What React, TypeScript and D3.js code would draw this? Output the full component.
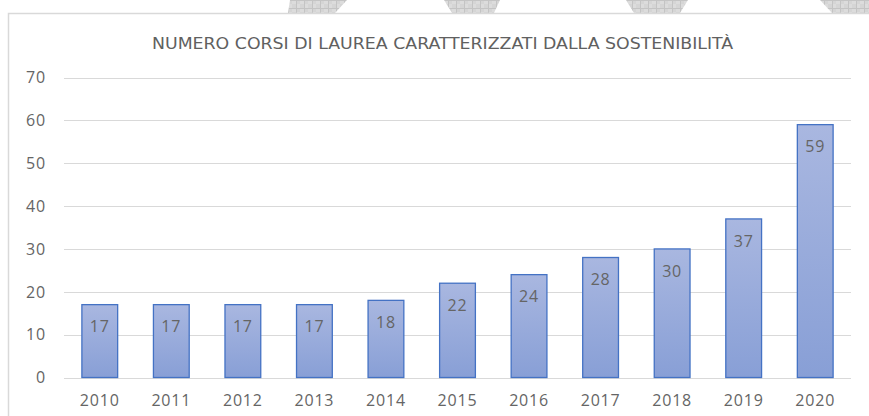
import React from "react";
import * as d3 from "d3";

const years = ["2010", "2011", "2012", "2013", "2014", "2015", "2016", "2017", "2018", "2019", "2020"];
const values = [17, 17, 17, 17, 18, 22, 24, 28, 30, 37, 59];
const yTicks = [0, 10, 20, 30, 40, 50, 60, 70];
const title = "NUMERO CORSI DI LAUREA CARATTERIZZATI DALLA SOSTENIBILITÀ";

const W = 869;
const H = 416;
const plotLeft = 64;
const plotRight = 851;
const plotTop = 77.5;
const plotBottom = 377.5;

const watermark: [number, number][][] = [
  [[290, 0], [347, 0], [335, 13], [288, 13]],
  [[444, 0], [500, 0], [494, 13], [452, 13]],
  [[626, 0], [688, 0], [680, 13], [634, 13]],
  [[820, 0], [869, 0], [869, 13], [832, 13]],
];

export default function App() {
  const x = d3.scaleBand<string>().domain(years).range([plotLeft, plotRight]).paddingInner(0.5).paddingOuter(0.25);
  const y = d3.scaleLinear().domain([0, 70]).range([plotBottom, plotTop]);
  const font = "'Open Sans', 'Noto Sans', sans-serif";
  const gray = "#656565";

  return (
    <svg width={W} height={H} style={{ position: "absolute", left: 0, top: 0 }}>
      <defs>
        <pattern id="chk" width="8" height="8" patternUnits="userSpaceOnUse">
          <rect width="8" height="8" fill="#dcdcdc" />
          <rect width="4" height="4" fill="#d5d5d5" />
          <rect x="4" y="4" width="4" height="4" fill="#d5d5d5" />
          <path d="M0,0.5H8M0.5,0V8" stroke="#c4c4c4" strokeWidth="1" />
        </pattern>
        <linearGradient id="barGrad" x1="0" y1="0" x2="0" y2="1">
          <stop offset="0" stopColor="#a9b7e0" />
          <stop offset="1" stopColor="#889fd6" />
        </linearGradient>
      </defs>
      <rect x={0} y={0} width={W} height={H} fill="#ffffff" />
      {watermark.map((pts, i) => (
        <polygon key={i} points={pts.map((p) => p.join(",")).join(" ")} fill="url(#chk)" />
      ))}
      <rect x={8.5} y={13.5} width={W + 20} height={H + 20} fill="#ffffff" stroke="#d9d9d9" strokeWidth={1.5} />
      <text
        x={442.5}
        y={49}
        textAnchor="middle"
        fontFamily="'Liberation Sans Narrow', 'Arial Narrow', 'DejaVu Sans Condensed', sans-serif"
        fontSize={15}
        fill="#606060"
        textLength={581}
        lengthAdjust="spacingAndGlyphs"
      >
        {title}
      </text>
      {yTicks.map((t) => (
        <g key={t}>
          <line x1={plotLeft} x2={plotRight} y1={Math.round(y(t)) + 0.5} y2={Math.round(y(t)) + 0.5} stroke="#d9d9d9" strokeWidth={1} />
          <text x={46} y={y(t)} dy="0.36em" textAnchor="end" fontFamily={font} fontSize={16} letterSpacing={0.8} fill={gray}>
            {t}
          </text>
        </g>
      ))}
      {years.map((yr, i) => {
        const bx = x(yr) as number;
        const bw = x.bandwidth();
        const top = y(values[i]);
        return (
          <g key={yr}>
            <rect x={bx} y={top} width={bw} height={plotBottom - top} fill="url(#barGrad)" stroke="#4472c4" strokeWidth={1.3} />
            <text x={bx + bw / 2} y={top + 22} dy="0.36em" textAnchor="middle" fontFamily={font} fontSize={16} letterSpacing={0.8} fill={gray}>
              {values[i]}
            </text>
            <text x={bx + bw / 2} y={400} dy="0.36em" textAnchor="middle" fontFamily={font} fontSize={16} letterSpacing={0.8} fill={gray}>
              {yr}
            </text>
          </g>
        );
      })}
    </svg>
  );
}
